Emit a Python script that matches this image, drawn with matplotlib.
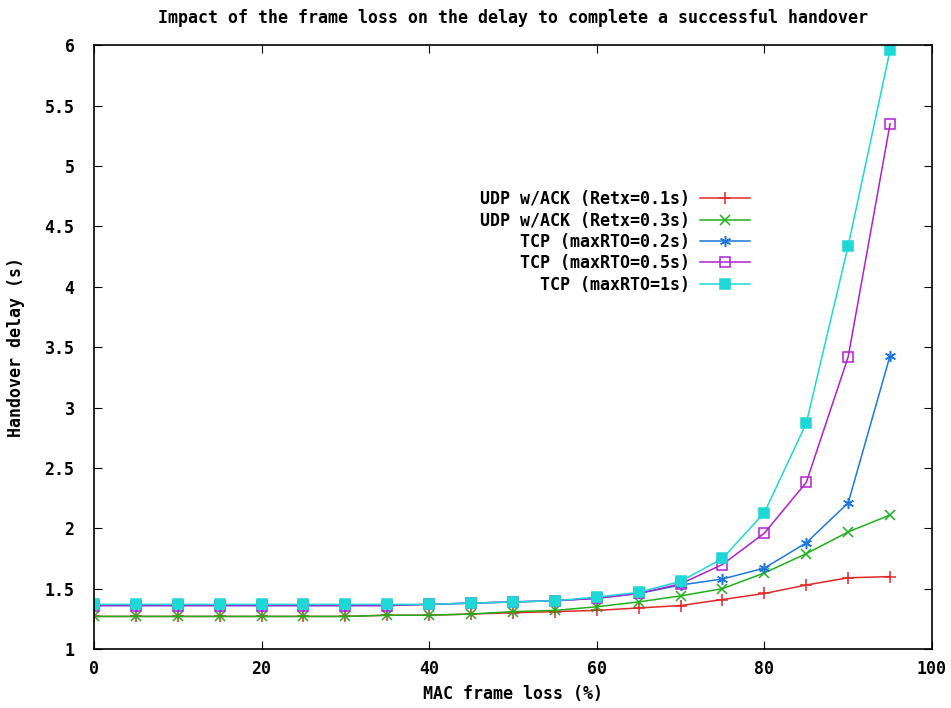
import matplotlib
matplotlib.use('Agg')
import matplotlib.pyplot as plt

frame_loss = [0, 5, 10, 15, 20, 25, 30, 35, 40, 45, 50, 55, 60, 65, 70, 75, 80, 85, 90, 95]

udp_01 = [1.27, 1.27, 1.27, 1.27, 1.27, 1.27, 1.27, 1.28, 1.28, 1.29, 1.30, 1.31, 1.32, 1.34, 1.36, 1.41, 1.46, 1.53, 1.59, 1.60]
udp_03 = [1.27, 1.27, 1.27, 1.27, 1.27, 1.27, 1.27, 1.28, 1.28, 1.29, 1.31, 1.32, 1.35, 1.39, 1.44, 1.50, 1.63, 1.79, 1.97, 2.11]
tcp_02 = [1.36, 1.36, 1.36, 1.36, 1.36, 1.36, 1.36, 1.36, 1.37, 1.38, 1.39, 1.40, 1.42, 1.46, 1.53, 1.58, 1.67, 1.88, 2.21, 3.43]
tcp_05 = [1.36, 1.36, 1.36, 1.36, 1.36, 1.36, 1.36, 1.36, 1.37, 1.38, 1.39, 1.40, 1.42, 1.46, 1.54, 1.70, 1.96, 2.38, 3.42, 5.35]
tcp_1 = [1.37, 1.37, 1.37, 1.37, 1.37, 1.37, 1.37, 1.37, 1.37, 1.38, 1.39, 1.40, 1.43, 1.47, 1.56, 1.75, 2.13, 2.87, 4.34, 5.96]

labels = ['UDP w/ACK (Retx=0.1s)', 'UDP w/ACK (Retx=0.3s)',
          'TCP (maxRTO=0.2s)', 'TCP (maxRTO=0.5s)', 'TCP (maxRTO=1s)']
width = max(len(s) for s in labels)
labels = [s.rjust(width) for s in labels]

plt.rcParams['font.family'] = 'DejaVu Sans Mono'
plt.rcParams['font.weight'] = 'bold'
fs = 12

fig = plt.figure(figsize=(9.51, 7.08), dpi=100)
ax = fig.add_axes([0.0988, 0.0833, 0.8812, 0.8527])

asterisk = (6, 2, 0)
ax.plot(frame_loss, udp_01, '-', color='#e02828', marker='+', ms=8, mew=1.1, lw=1.1, label=labels[0])
ax.plot(frame_loss, udp_03, '-', color='#1fb01f', marker='x', ms=7, mew=1.1, lw=1.1, label=labels[1])
ax.plot(frame_loss, tcp_02, '-', color='#1e78e0', marker=asterisk, ms=8, mew=1.1, lw=1.1, label=labels[2])
ax.plot(frame_loss, tcp_05, '-', color='#b020d0', marker='s', ms=6.5, mfc='none', mew=1.1, lw=1.1, label=labels[3])
ax.plot(frame_loss, tcp_1, '-', color='#1ed8d8', marker='s', ms=7, mew=1.1, lw=1.1, label=labels[4])

ax.set_xlim(0, 100)
ax.set_ylim(1, 6)
ax.set_xticks(range(0, 101, 20))
ax.set_yticks([1, 1.5, 2, 2.5, 3, 3.5, 4, 4.5, 5, 5.5, 6])
ax.set_yticklabels(['1', '1.5', '2', '2.5', '3', '3.5', '4', '4.5', '5', '5.5', '6'])
ax.tick_params(direction='in', top=True, right=True, length=6, labelsize=fs)
ax.tick_params(axis='y', pad=14)
ax.tick_params(axis='x', pad=8)
for s in ax.spines.values():
    s.set_linewidth(1.2)

ax.set_title('Impact of the frame loss on the delay to complete a successful handover',
             fontsize=fs, fontweight='bold', pad=16)
ax.set_xlabel('MAC frame loss (%)', fontsize=fs, fontweight='bold', labelpad=5)
ax.set_ylabel('Handover delay (s)', fontsize=fs, fontweight='bold', labelpad=14)

ax.legend(loc='upper right', bbox_to_anchor=(0.783, 0.76), frameon=False,
          markerfirst=False, fontsize=fs, handlelength=3.0, labelspacing=0.2,
          handletextpad=0.6, borderpad=0, borderaxespad=0)

fig.savefig('out.png', dpi=100)
